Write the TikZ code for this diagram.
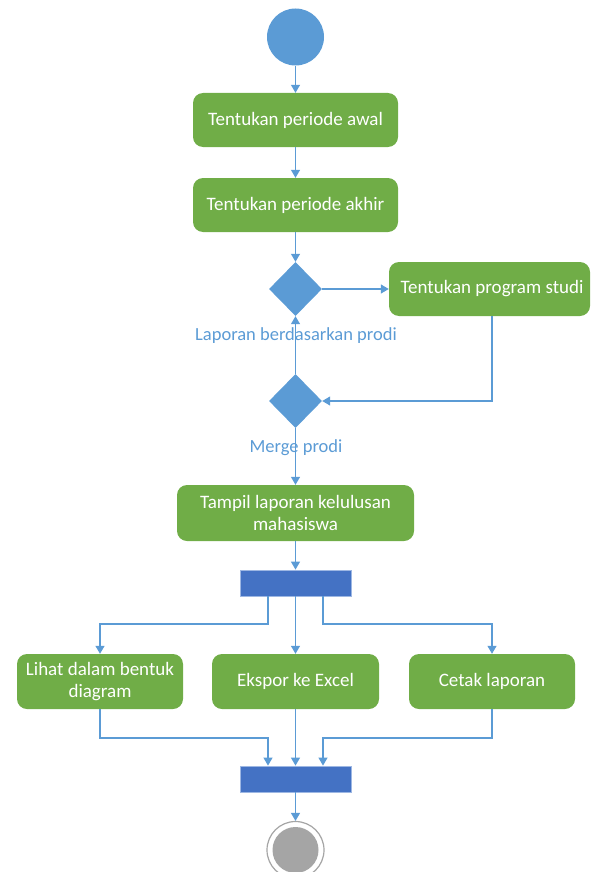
\documentclass[tikz,border=0pt]{standalone}
\usepackage{fontspec}
\setmainfont{Carlito}
\usetikzlibrary{shapes.geometric,arrows.meta}
\definecolor{actgreen}{HTML}{70AD47}
\definecolor{flowblue}{HTML}{5B9BD5}
\definecolor{barblue}{HTML}{4472C4}
\definecolor{barline}{HTML}{9DB7E3}
\definecolor{endgray}{HTML}{A5A5A5}
\begin{document}
\begin{tikzpicture}[x=1pt,y=-1pt,
  act/.style={rectangle,rounded corners=10pt,fill=actgreen,text=white,inner sep=0pt,
    font=\fontsize{19}{22}\selectfont,align=center},
  dec/.style={diamond,fill=flowblue,inner sep=0pt,minimum width=53pt,minimum height=54pt},
  bar/.style={rectangle,fill=barblue,draw=barline,line width=0.8pt,minimum width=111pt,minimum height=26pt,inner sep=0pt},
  lbl/.style={text=flowblue,font=\fontsize{18.5}{22}\selectfont,inner sep=0pt},
  flow/.style={draw=flowblue,line width=1.2pt,-{Triangle[width=9pt,length=8pt]}},
  plain/.style={draw=flowblue,line width=1.2pt}]
\useasboundingbox (0,0) rectangle (590,872);

\node[circle,fill=flowblue,minimum size=57pt,inner sep=0pt] (start) at (295.5,37) {};
\node[act,minimum width=205pt,minimum height=54pt] (awal) at (295.5,120) {Tentukan periode awal};
\node[act,minimum width=205pt,minimum height=54pt] (akhir) at (295.5,205) {Tentukan periode akhir};
\node[dec] (d1) at (295.5,289) {};
\node[act,minimum width=201pt,minimum height=54pt] (prog) at (489.5,289) {\hspace*{5pt}Tentukan program studi};
\node[lbl] (l1) at (296,336) {Laporan berdasarkan prodi};
\node[dec] (d2) at (295.5,401) {};
\node[lbl] (l2) at (296,448) {Merge prodi};
\node[act,minimum width=237pt,minimum height=56pt] (tampil) at (295.5,513) {Tampil laporan kelulusan\\mahasiswa};
\node[bar] (fork) at (295.5,583) {};
\node[act,minimum width=166pt,minimum height=55pt] (lihat) at (100,681.5) {Lihat dalam bentuk\\diagram};
\node[act,minimum width=167pt,minimum height=55pt] (ekspor) at (295.5,681.5) {Ekspor ke Excel};
\node[act,minimum width=166pt,minimum height=55pt] (cetak) at (492,681.5) {Cetak laporan};
\node[bar] (join) at (295.5,779) {};
\node[circle,draw=endgray,line width=1.2pt,fill=white,minimum size=57pt,inner sep=0pt] (endo) at (295.5,850) {};
\node[circle,fill=endgray,minimum size=46pt,inner sep=0pt] (endi) at (295.5,850) {};

\coordinate (pr) at (492,401);
\coordinate (fl) at (268,624);
\coordinate (fr) at (323,624);
\coordinate (jl) at (268,738);
\coordinate (jr) at (323,738);

\draw[flow] (start) -- (awal);
\draw[flow] (awal) -- (akhir);
\draw[flow] (akhir) -- (d1);
\draw[flow] (d1.east) -- (prog.west);
\draw[flow] (prog.south -| pr) -- (pr) -- (d2.east);
\draw[flow] (d2.north) -- (d1.south);
\draw[flow] (d2.south) -- (tampil.north);
\draw[flow] (tampil) -- (fork);
\draw[flow] (fork.south -| fl) -- (fl) -- (fl -| lihat.north) -- (lihat.north);
\draw[flow] (fork.south) -- (ekspor.north);
\draw[flow] (fork.south -| fr) -- (fr) -- (fr -| cetak.north) -- (cetak.north);
\draw[flow] (lihat.south) -- (lihat.south |- jl) -- (jl) -- (join.north -| jl);
\draw[flow] (ekspor.south) -- (join.north);
\draw[flow] (cetak.south) -- (cetak.south |- jr) -- (jr) -- (join.north -| jr);
\draw[flow] (join.south) -- (endo.north);
\end{tikzpicture}
\end{document}
